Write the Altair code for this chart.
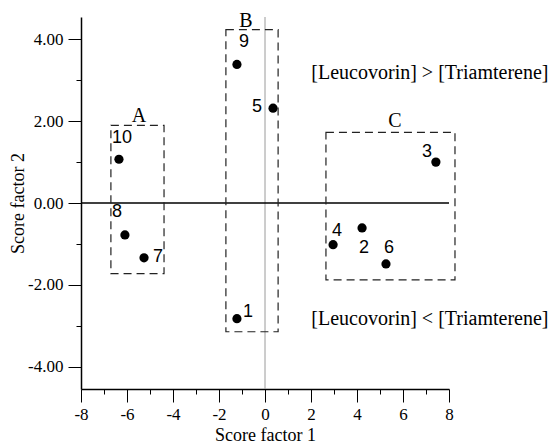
import altair as alt
import pandas as pd

# ---- data ----
point_ids = ["1", "2", "3", "4", "5", "6", "7", "8", "9", "10"]
score1 = [-1.22, 4.22, 7.43, 2.96, 0.35, 5.26, -5.26, -6.09, -1.22, -6.35]
score2 = [-2.83, -0.61, 1.00, -1.02, 2.32, -1.49, -1.34, -0.78, 3.39, 1.07]
label_x = [-0.74, 4.30, 7.04, 3.13, -0.35, 5.39, -4.65, -6.43, -0.91, -6.22]
label_y = [-2.66, -1.10, 1.24, -0.68, 2.34, -1.10, -1.32, -0.22, 3.93, 1.59]

groups = ["A", "B", "C"]
box_x1 = [-6.70, -1.70, 2.65]
box_x2 = [-4.39, 0.57, 8.26]
box_y1 = [-1.73, -3.15, -1.88]
box_y2 = [1.90, 4.24, 1.73]
group_label_x = [-5.48, -0.83, 5.65]
group_label_y = [2.12, 4.44, 2.00]

notes = ["[Leucovorin] > [Triamterene]", "[Leucovorin] < [Triamterene]"]
note_x = [7.17, 7.17]
note_y = [3.17, -2.83]

x_ticks = list(range(-8, 9))
y_ticks = list(range(-4, 5))

points = pd.DataFrame({"id": point_ids, "s1": score1, "s2": score2,
                       "lx": label_x, "ly": label_y})
boxes = pd.DataFrame({"g": groups, "x1": box_x1, "x2": box_x2, "y1": box_y1,
                      "y2": box_y2, "gx": group_label_x, "gy": group_label_y})
note_df = pd.DataFrame({"t": notes, "x": note_x, "y": note_y})

SERIF = "Liberation Serif"
SANS = "Liberation Sans"
XT = "Score factor 1"
YT = "Score factor 2"

xsc = alt.Scale(domain=[-8, 8], nice=False, zero=False)
ysc = alt.Scale(domain=[-4.55, 4.55], nice=False, zero=False)

x_axis = alt.Axis(
    values=x_ticks,
    labelExpr="datum.value % 2 === 0 ? '' + datum.value : ''",
    tickSize={"condition": {"test": "datum.value % 2 === 0", "value": 13}, "value": 5},
    tickColor="black", tickWidth=1, domainColor="black", domainWidth=1.5,
    labelFont=SERIF, labelFontSize=17, labelColor="black", labelPadding=4,
    labelFlush=False, labelOverlap=False, grid=False,
    titleFont=SERIF, titleFontSize=18, titleFontWeight="normal", titleColor="black",
    titleY=46, titleBaseline="middle", titleX=184, titleAlign="center",
)
y_axis = alt.Axis(
    values=y_ticks,
    labelExpr="datum.value % 2 === 0 ? (datum.value < 0 ? '-' : '') + format(abs(datum.value), '.2f') : ''",
    tickSize={"condition": {"test": "datum.value % 2 === 0", "value": 13}, "value": 5},
    tickColor="black", tickWidth=1, domainColor="black", domainWidth=1.5,
    labelFont=SERIF, labelFontSize=17, labelColor="black", labelPadding=5,
    labelFlush=False, labelOverlap=False, grid=False,
    titleFont=SERIF, titleFontSize=18, titleFontWeight="normal", titleColor="black",
    titleX=-63, titleY=186, titleAngle=-90, titleAlign="center", titleBaseline="middle",
)


def X(field):
    return alt.X(field, scale=xsc, axis=x_axis, title=XT)


def Y(field):
    return alt.Y(field, scale=ysc, axis=y_axis, title=YT)


dots = alt.Chart(points).mark_circle(size=85, color="black", opacity=1).encode(
    x=X("s1:Q"), y=Y("s2:Q"),
)

vline = alt.Chart(points).mark_rule(color="#9a9a9a", strokeWidth=1).encode(
    x=alt.X(datum=0, scale=xsc, axis=x_axis, title=XT)
).transform_filter("datum.id == '1'")

hline = alt.Chart(points).mark_rule(color="black", strokeWidth=1.3).encode(
    y=alt.Y(datum=0, scale=ysc, axis=y_axis, title=YT)
).transform_filter("datum.id == '1'")

rects = alt.Chart(boxes).mark_rect(
    fillOpacity=0, stroke="#222222", strokeWidth=1.2, strokeDash=[8, 5]
).encode(
    x=X("x1:Q"), x2="x2:Q",
    y=Y("y1:Q"), y2="y2:Q",
)

group_text = alt.Chart(boxes).mark_text(
    font=SERIF, fontSize=20, color="black", align="center", baseline="middle"
).encode(
    x=X("gx:Q"), y=Y("gy:Q"), text="g:N",
)

dot_labels = alt.Chart(points).mark_text(
    font=SANS, fontSize=18, color="black", align="center", baseline="middle"
).encode(
    x=X("lx:Q"), y=Y("ly:Q"), text="id:N",
)

note_text = alt.Chart(note_df).mark_text(
    font=SERIF, fontSize=20, color="black", align="center", baseline="middle"
).encode(
    x=X("x:Q"), y=Y("y:Q"), text="t:N",
)

chart = alt.layer(
    dots, vline, hline, rects, group_text, dot_labels, note_text
).properties(
    width=368, height=372,
    autosize=alt.AutoSizeParams(type="none"),
    padding={"left": 81, "top": 17, "right": 101, "bottom": 56},
    background="white",
).configure_view(stroke=None)

chart.save("out.html", embed_options={"renderer": "svg", "actions": False})
